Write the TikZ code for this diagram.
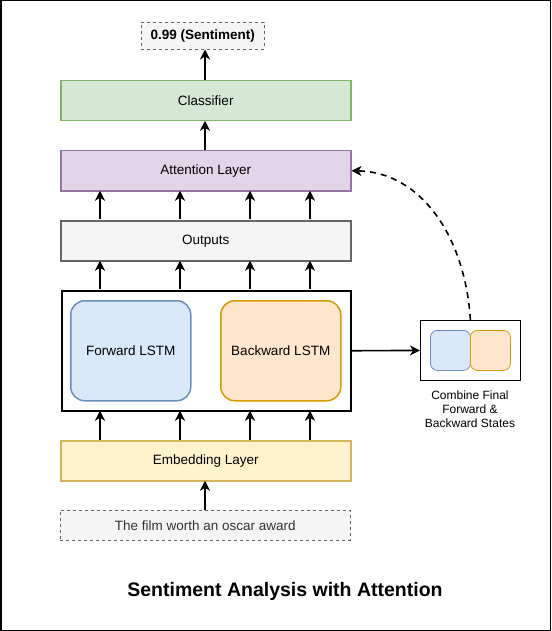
\documentclass[tikz,border=0pt]{standalone}
\usepackage{fontspec}
\setmainfont{Liberation Sans}
\usetikzlibrary{arrows.meta,positioning}
\definecolor{grayfill}{HTML}{F5F5F5}
\definecolor{grayline}{HTML}{666666}
\definecolor{greenfill}{HTML}{D5E8D4}
\definecolor{greenline}{HTML}{82B366}
\definecolor{purplefill}{HTML}{E1D5E7}
\definecolor{purpleline}{HTML}{9673A6}
\definecolor{bluefill}{HTML}{DAE8FC}
\definecolor{blueline}{HTML}{6C8EBF}
\definecolor{orangefill}{HTML}{FFE6CC}
\definecolor{orangeline}{HTML}{D79B00}
\definecolor{yellowfill}{HTML}{FFF2CC}
\definecolor{yellowline}{HTML}{D6B656}
\tikzset{
  layer/.style={draw, line width=1.5pt, minimum width=290pt, minimum height=40pt, inner sep=0pt, font=\fontsize{13.5}{16}\selectfont, anchor=north west},
  dbox/.style={draw=grayline, dashed, fill=grayfill, line width=0.6pt, inner sep=0pt, anchor=north west},
  lstm/.style={draw, line width=1.5pt, rounded corners=14pt, minimum width=120pt, minimum height=100pt, anchor=north west, font=\fontsize{13.5}{16}\selectfont},
  small/.style={draw, line width=0.8pt, rounded corners=7pt, minimum width=40pt, minimum height=40pt, anchor=north west},
  arr/.style={-{Stealth[length=10pt,width=10pt,inset=3pt]}, line width=1.6pt},
}
\begin{document}
\begin{tikzpicture}[x=1pt,y=-1pt]
\draw[line width=1.5pt, fill=white] (0.75,0.75) rectangle (550.25,630.25);
\useasboundingbox (0,0) rectangle (551,631);

\node[dbox, minimum width=123pt, minimum height=27pt, font=\fontsize{13.5}{16}\selectfont\bfseries] (out) at (141,22) {0.99 (Sentiment)};
\node[layer, draw=greenline, fill=greenfill] (cls) at (60,80) {Classifier};
\node[layer, draw=purpleline, fill=purplefill] (att) at (60,150) {Attention Layer};
\node[layer, draw=grayline, fill=grayfill] (outs) at (60,220) {Outputs};
\node[draw=black, line width=1.5pt, minimum width=289pt, minimum height=120pt, inner sep=0pt, anchor=north west] (bil) at (61,290) {};
\node[lstm, draw=blueline, fill=bluefill] (fw) at (70,300) {Forward LSTM};
\node[lstm, draw=orangeline, fill=orangefill] (bw) at (220,300) {Backward LSTM};
\node[layer, draw=yellowline, fill=yellowfill] (emb) at (60,440) {Embedding Layer};
\node[dbox, minimum width=290pt, minimum height=30pt, font=\fontsize{13.5}{16}\selectfont] (inp) at (60,510) {\color[HTML]{333333}The film worth an oscar award};

\node[draw=black, line width=0.8pt, minimum width=100pt, minimum height=60pt, inner sep=0pt, anchor=north west] (comb) at (420,320) {};
\node[small, draw=blueline, fill=bluefill] (cb) at (430,330) {};
\node[small, draw=orangeline, fill=orangefill] (co) at (470,330) {};
\node[align=center, font=\fontsize{12}{14}\selectfont, anchor=north] (cap) at (470,387) {Combine Final\\Forward \&\\Backward States};

\node[font=\fontsize{19.5}{22}\selectfont\bfseries] (title) at (285,591) {Sentiment Analysis with Attention};

% arrows
\coordinate (c1) at (205,510);
\coordinate (c2) at (205,480.75);
\coordinate (c3) at (205,80);
\coordinate (c4) at (205,49.5);
\coordinate (c5) at (205,150);
\coordinate (c6) at (205,120.75);
\draw[arr] (c1) -- (c2);
\draw[arr] (c3) -- (c4);
\draw[arr] (c5) -- (c6);
\foreach \x in {100,180,250,310} {
  \draw[arr] (\x,440) -- (\x,410.75);
  \draw[arr] (\x,289.25) -- (\x,260.75);
  \draw[arr] (\x,219.25) -- (\x,190.75);
}
\draw[arr] (bil.east) -- (comb.west);
\draw[arr, dashed, dash pattern=on 6pt off 5pt] (comb.north) .. controls (465,235) and (420,172) .. (att.east);
\end{tikzpicture}
\end{document}
